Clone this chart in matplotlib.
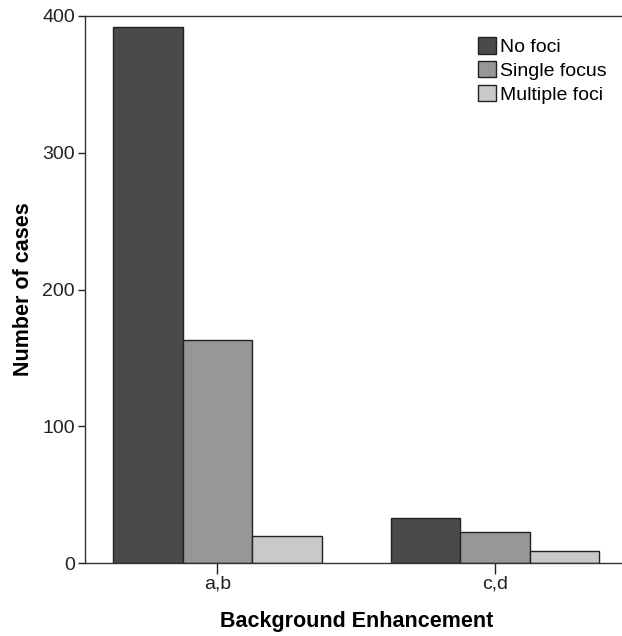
import numpy as np
import matplotlib.pyplot as plt

plt.rcParams['font.family'] = ['Liberation Sans', 'DejaVu Sans']

# counts
categories = ['a,b', 'c,d']
no_foci = [392, 33]
single_focus = [163, 23]
multiple_foci = [20, 9]

series = [('No foci', no_foci, '#4a4a4a'),
          ('Single focus', single_focus, '#979797'),
          ('Multiple foci', multiple_foci, '#c9c9c9')]

W, H = 622, 636
fig = plt.figure(figsize=(W / 100, H / 100), dpi=100)
left, right, top, bottom = 84.5, 628, 16, 563
ax = fig.add_axes([left / W, 1 - bottom / H, (right - left) / W, (bottom - top) / H])

x = np.arange(len(categories))
width = 0.25
for i, (name, vals, color) in enumerate(series):
    ax.bar(x + (i - 1) * width, vals, width, color=color, edgecolor='#222222',
           linewidth=1.0, label=name, zorder=2)

ax.set_xlim(-0.478, 1.478)
ax.set_ylim(0, 400)
ax.set_yticks([0, 100, 200, 300, 400])
ax.set_xticks(x)
ax.set_xticklabels(categories)

for s in ['top', 'left', 'bottom']:
    ax.spines[s].set_color('#333333')
    ax.spines[s].set_linewidth(1.0)
ax.spines['right'].set_visible(False)
ax.tick_params(axis='y', direction='out', length=5, width=1, labelsize=14, pad=2, colors='#222222')
ax.tick_params(axis='x', direction='out', length=8, width=1, labelsize=14, pad=1, colors='#222222')

ax.set_ylabel('Number of cases', fontsize=15.5, fontweight='bold', labelpad=6)
ax.set_xlabel('Background Enhancement', fontsize=15.5, fontweight='bold', labelpad=13)

ax.legend(loc='upper left', bbox_to_anchor=(0.724, 0.962), frameon=False,
          fontsize=14, borderpad=0, borderaxespad=0, handlelength=0.95,
          handleheight=0.95, handletextpad=0.2, labelspacing=0.25)

fig.savefig('out.png', dpi=100)
